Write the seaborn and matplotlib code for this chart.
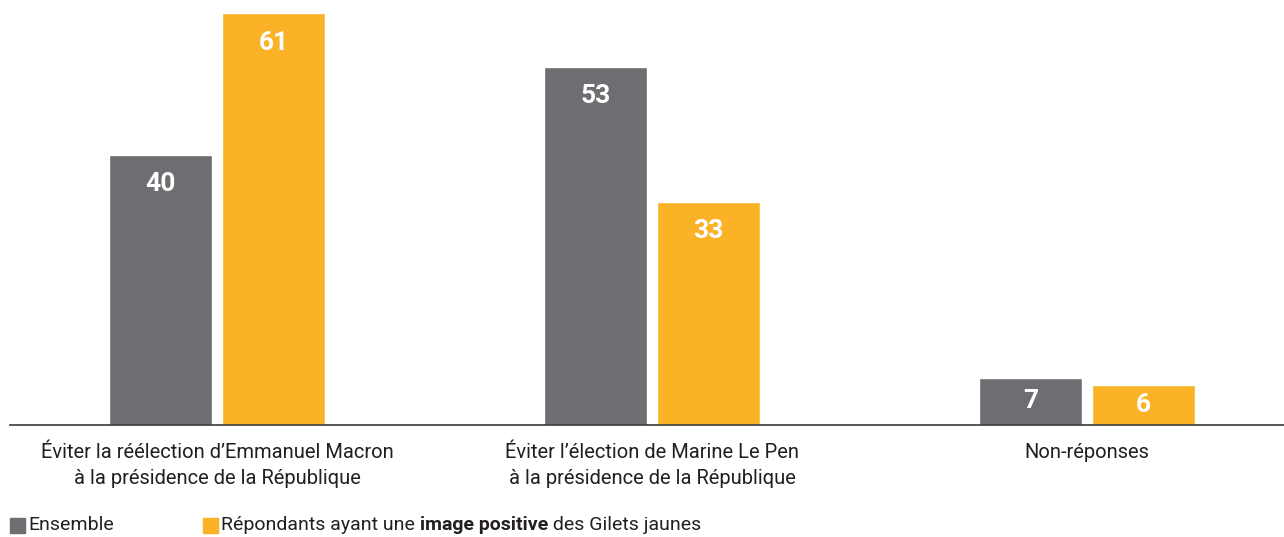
import matplotlib
matplotlib.use("Agg")
import matplotlib.pyplot as plt
import matplotlib.patches as mpatches
import seaborn as sns
import pandas as pd

# Chart data
categories = ["Éviter la réélection d’Emmanuel Macron\nà la présidence de la République",
              "Éviter l’élection de Marine Le Pen\nà la présidence de la République",
              "Non-réponses"]
ensemble = [40, 53, 7]
gilets_positifs = [61, 33, 6]
groups = ["Ensemble", "Répondants ayant une image positive des Gilets jaunes"]

gray = "#6d6e71"
orange = "#fbb227"

df = pd.DataFrame({
    "cat": categories * 2,
    "val": ensemble + gilets_positifs,
    "grp": [groups[0]] * 3 + [groups[1]] * 3,
})

sns.set_style("white")
plt.rcParams["font.family"] = ["Roboto", "DejaVu Sans"]

fig = plt.figure(figsize=(12.84, 5.37), dpi=100)
ax = fig.add_axes([10 / 1284, 112 / 537, 1 - 10 / 1284, 425 / 537])

sns.barplot(data=df, x="cat", y="val", hue="grp", palette=[gray, orange],
            width=0.52, gap=0.09, saturation=1, legend=False, ax=ax)

ax.set_xlim(-0.476, 2.453)
ax.set_ylim(0, 63)
ax.set_xlabel("")
ax.set_ylabel("")
ax.set_yticks([])
for s in ["left", "right", "top"]:
    ax.spines[s].set_visible(False)
ax.spines["bottom"].set_color("#3a3a3a")
ax.spines["bottom"].set_linewidth(1.2)
ax.tick_params(axis="x", length=0, pad=13, labelsize=14.5, colors="#231f20")
for lab in ax.get_xticklabels():
    lab.set_linespacing(1.45)
    lab.set_verticalalignment("top")

# value labels inside bars
for p in ax.patches:
    h = p.get_height()
    if h <= 0:
        continue
    y = max(h - 4.3, h / 2)
    ax.text(p.get_x() + p.get_width() / 2, y, f"{h:.0f}", ha="center", va="center",
            color="white", fontsize=19, fontweight="bold")

# legend at the bottom
ly = 4 / 537
fig.patches.append(mpatches.Rectangle((10 / 1284, ly), 15 / 1284, 15 / 537,
                                      transform=fig.transFigure, color=gray))
fig.text(28 / 1284, ly - 1 / 537, "Ensemble", fontsize=14, color="#231f20", va="bottom")
fig.patches.append(mpatches.Rectangle((203 / 1284, ly), 15 / 1284, 15 / 537,
                                      transform=fig.transFigure, color=orange))
renderer = fig.canvas.get_renderer()
x = 221 / 1284
for txt, w in [("Répondants ayant une ", "normal"), ("image positive", "bold"),
               (" des Gilets jaunes", "normal")]:
    t = fig.text(x, ly - 1 / 537, txt, fontsize=14, color="#231f20", va="bottom", fontweight=w)
    bb = t.get_window_extent(renderer=renderer)
    x += bb.width / 1284

fig.savefig("out.png", dpi=100)
